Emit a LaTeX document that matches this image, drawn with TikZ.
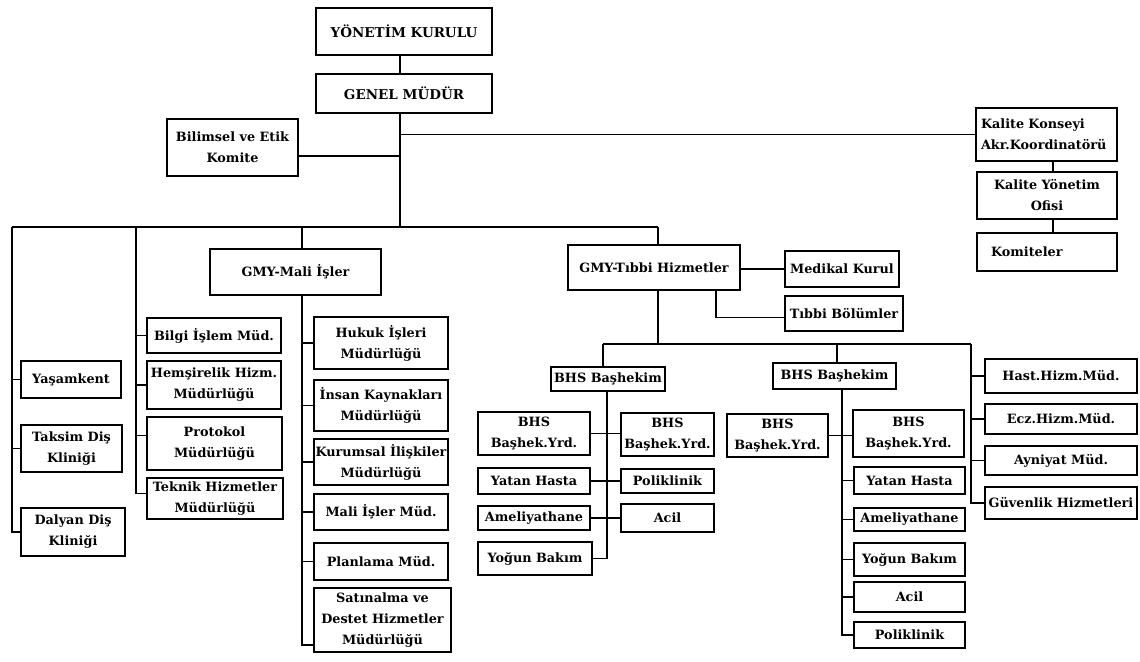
\documentclass[tikz,border=0pt]{standalone}
\usepackage{fontspec}
\setmainfont{DejaVu Serif}
\tikzset{
  box/.style={draw, line width=1.3pt, align=center, inner sep=0pt,
    font={\rmfamily\bfseries\fontsize{12.8}{21}\selectfont}},
  link/.style={line width=1.3pt},
  bigtext/.style={font={\rmfamily\bfseries\fontsize{13.5}{21}\selectfont}},
}
% \orgbox[options]{name}{left}{top}{right}{bottom}{text}
\newcommand{\orgbox}[7][]{%
  \node[box, minimum width={#5-#3}, minimum height={#6-#4}, #1] (#2)
    at ({(#3+#5)/2},{(#4+#6)/2}) {#7};}
\begin{document}
\begin{tikzpicture}[x=1pt, y=-1pt]
\useasboundingbox[fill=white] (0,0) rectangle (1140,661);

% top of the hierarchy
\orgbox[bigtext]{yk}{316}{8}{492}{55}{YÖNETİM KURULU}
\orgbox[bigtext]{gm}{316}{74}{492}{113}{GENEL MÜDÜR}
\orgbox{bil}{167}{119}{298}{176}{Bilimsel ve Etik\\Komite}
\orgbox[text width=131pt, align=left]{kk}{976}{108}{1117}{161}{Kalite Konseyi\\Akr.Koordinatörü}
\orgbox{kyo}{977}{172}{1117}{219}{Kalite Yönetim\\Ofisi}
\orgbox[text width=112pt, align=left]{kom}{977}{233}{1117}{271}{Komiteler}

% left column
\orgbox{yas}{21}{361}{121}{398}{Yaşamkent}
\orgbox{tak}{21}{425}{122}{472}{Taksim Diş\\Kliniği}
\orgbox{dal}{21}{508}{125}{556}{Dalyan Diş\\Kliniği}

% second column
\orgbox{bilgi}{147}{318}{281}{353}{Bilgi İşlem Müd.}
\orgbox{hem}{147}{361}{281}{409}{Hemşirelik Hizm.\\Müdürlüğü}
\orgbox{pro}{147}{417}{282}{470}{Protokol\\Müdürlüğü}
\orgbox{tek}{147}{478}{283}{519}{Teknik Hizmetler\\Müdürlüğü}

% financial affairs
\orgbox{mali}{210}{249}{381}{295}{GMY-Mali İşler}
\orgbox{huk}{314}{317}{448}{369}{Hukuk İşleri\\Müdürlüğü}
\orgbox{ins}{314}{380}{448}{431}{İnsan Kaynakları\\Müdürlüğü}
\orgbox{kur}{314}{439}{448}{485}{Kurumsal İlişkiler\\Müdürlüğü}
\orgbox{mim}{314}{494}{448}{530}{Mali İşler Müd.}
\orgbox{pla}{314}{543}{448}{580}{Planlama Müd.}
\orgbox{sat}{314}{588}{451}{652}{Satınalma ve\\Destet Hizmetler\\Müdürlüğü}

% medical services
\orgbox{tib}{568}{245}{740}{290}{GMY-Tıbbi Hizmetler}
\orgbox{med}{785}{251}{899}{287}{Medikal Kurul}
\orgbox{tbo}{785}{296}{903}{331}{Tıbbi Bölümler}

% first chief physician group
\orgbox{bhsa}{551}{367}{665}{391}{BHS Başhekim}
\orgbox{ya1}{478}{412}{590}{455}{BHS\\Başhek.Yrd.}
\orgbox{yb1}{621}{413}{714}{456}{BHS\\Başhek.Yrd.}
\orgbox{yh1}{478}{468}{590}{494}{Yatan Hasta}
\orgbox{pk1}{621}{469}{714}{493}{Poliklinik}
\orgbox{am1}{478}{506}{590}{530}{Ameliyathane}
\orgbox{ac1}{621}{504}{714}{532}{Acil}
\orgbox{ybk1}{478}{542}{592}{575}{Yoğun Bakım}

% second chief physician group
\orgbox{bhsb}{773}{363}{896}{389}{BHS Başhekim}
\orgbox{ya2}{727}{414}{828}{457}{BHS\\Başhek.Yrd.}
\orgbox{yb2}{853}{410}{964}{457}{BHS\\Başhek.Yrd.}
\orgbox{yh2}{854}{467}{965}{494}{Yatan Hasta}
\orgbox{am2}{854}{508}{965}{531}{Ameliyathane}
\orgbox{ybk2}{854}{543}{965}{576}{Yoğun Bakım}
\orgbox{ac2}{854}{582}{965}{612}{Acil}
\orgbox{pk2}{854}{622}{965}{648}{Poliklinik}

% support directorates
\orgbox{hast}{985}{359}{1137}{393}{Hast.Hizm.Müd.}
\orgbox{ecz}{985}{404}{1137}{434}{Ecz.Hizm.Müd.}
\orgbox{ayn}{985}{446}{1137}{475}{Ayniyat Müd.}
\orgbox{guv}{985}{487}{1137}{519}{Güvenlik Hizmetleri}

% junction points of the line network
\coordinate (trunk) at (400,227);
\coordinate (busL) at (12,227);
\coordinate (busB) at (136,227);
\coordinate (busM) at (302,227);
\coordinate (busT) at (658,227);
\coordinate (kc) at (1053,0);
\coordinate (tbx) at (716,0);
\coordinate (sbL) at (603,344);
\coordinate (sbM) at (837,344);
\coordinate (sbR) at (971,344);
\coordinate (c1) at (607,391);
\coordinate (c2) at (842,389);

\begin{scope}[link]
% top trunk and side branches
\draw (yk.south -| trunk) -- (gm.north -| trunk);
\draw (gm.south -| trunk) -- (trunk);
\draw ([yshift=-8.5pt]bil.east) -- ([yshift=-8.5pt]bil.east -| trunk);
\draw (kk.west) -- (kk.west -| trunk);
\draw (kk.south -| kc) -- (kyo.north -| kc);
\draw (kyo.south -| kc) -- (kom.north -| kc);

% main bus
\draw (busL) -- (busT);

% left column
\draw (busL) |- (dal.west);
\draw (yas.west) -- (yas.west -| busL);
\draw (tak.west) -- (tak.west -| busL);

% second column
\draw (busB) |- ([yshift=5pt]tek.west);
\draw (bilgi.west) -- (bilgi.west -| busB);
\draw (hem.west) -- (hem.west -| busB);
\draw ([yshift=8pt]pro.west) -- ([yshift=8pt]pro.west -| busB);

% financial affairs
\draw (busM) -- (busM |- mali.north);
\draw (mali.south -| busM) |- ([yshift=-25pt]sat.west);
\draw (huk.west) -- (huk.west -| busM);
\draw (ins.west) -- (ins.west -| busM);
\draw (kur.west) -- (kur.west -| busM);
\draw (mim.west) -- (mim.west -| busM);
\draw (pla.west) -- (pla.west -| busM);

% medical services
\draw (busT) -- (busT |- tib.north);
\draw (med.west -| tib.east) -- (med.west);
\draw (tib.south -| tbx) |- ([yshift=-4pt]tbo.west);
\draw (tib.south -| busT) -- (busT |- sbL);
\draw (sbL) -- (sbR);
\draw (sbL) -- (sbL |- bhsa.north);
\draw (sbM) -- (sbM |- bhsb.north);

% first group
\draw (c1) |- (ybk1.east);
\draw (ya1.east) -- (ya1.east -| yb1.west);
\draw (yh1.east) -- (yh1.east -| pk1.west);
\draw (am1.east) -- (am1.east -| ac1.west);

% second group
\draw (c2) |- (pk2.west);
\draw (ya2.east) -- (ya2.east -| yb2.west);
\draw (yh2.west) -- (yh2.west -| c2);
\draw (am2.west) -- (am2.west -| c2);
\draw (ybk2.west) -- (ybk2.west -| c2);
\draw (ac2.west) -- (ac2.west -| c2);

% support directorates
\draw (sbR) |- (guv.west);
\draw (hast.west) -- (hast.west -| sbR);
\draw (ecz.west) -- (ecz.west -| sbR);
\draw (ayn.west) -- (ayn.west -| sbR);
\end{scope}
\end{tikzpicture}
\end{document}
